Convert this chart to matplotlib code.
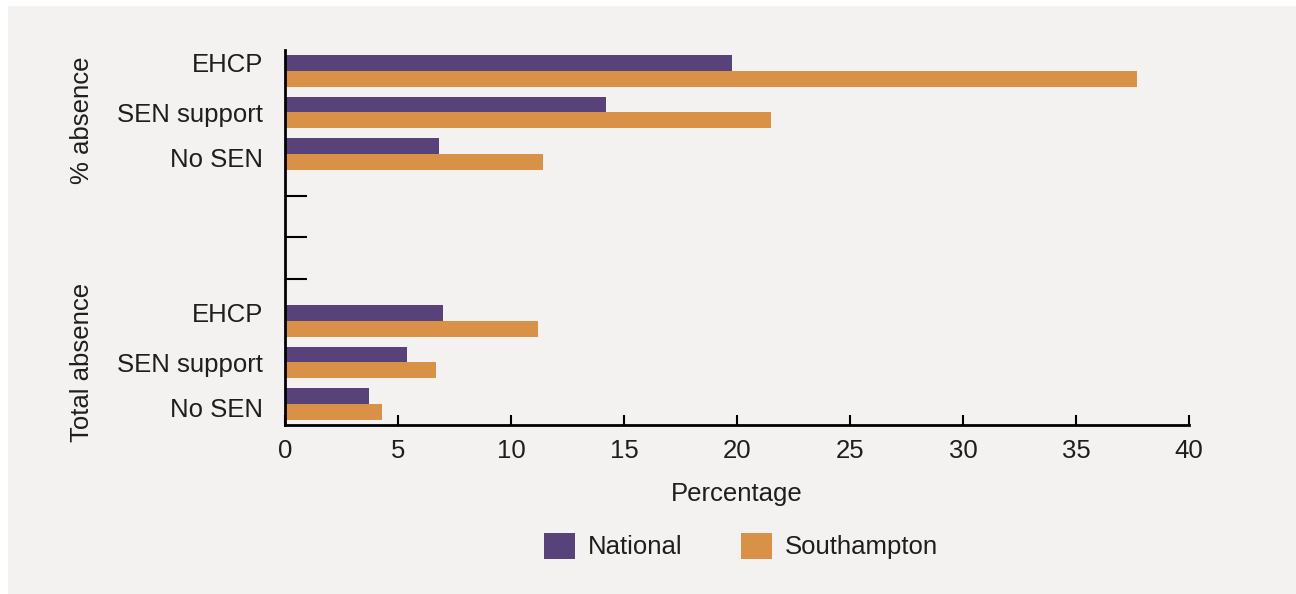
import matplotlib.pyplot as plt
import matplotlib.transforms as mtransforms
from matplotlib.patches import Patch, Rectangle

# data (percent)
categories = ["EHCP", "SEN support", "No SEN", "", "", "", "EHCP", "SEN support", "No SEN"]
national = [19.8, 14.2, 6.8, 0, 0, 0, 7.0, 5.4, 3.7]
southampton = [37.7, 21.5, 11.4, 0, 0, 0, 11.2, 6.7, 4.3]
x_ticks = [0, 5, 10, 15, 20, 25, 30, 35, 40]
groups = ["% absence", "Total absence"]

purple = "#574379"
orange = "#d99047"
bg = "#f4f2f0"
txt = "#1e1e1e"
fs = 18.5

plt.rcParams["font.family"] = ["Liberation Sans", "DejaVu Sans"]

fig = plt.figure(figsize=(12.96, 5.94), dpi=100, facecolor="white")
fig.patches.append(Rectangle((8 / 1296, 0), 1, 1 - 6 / 594, transform=fig.transFigure,
                             facecolor=bg, edgecolor="none", zorder=-10))

ax = fig.add_axes([285 / 1296, (594 - 425) / 594, (1189 - 285) / 1296, (425 - 50) / 594])
ax.set_facecolor("none")

pos = list(range(len(categories)))
h = 0.38
ax.barh([p - h / 2 for p in pos], national, height=h, color=purple, zorder=3)
ax.barh([p + h / 2 for p in pos], southampton, height=h, color=orange, zorder=3)

ax.set_ylim(8.5, -0.5)
ax.set_xlim(0, 40)
ax.set_yticks(pos)
ax.set_yticklabels([])
ax.set_xticks(x_ticks)
ax.set_xticklabels([str(t) for t in x_ticks], fontsize=fs, color=txt)

# category labels, spread a little wider than the bars as in the original
shift_px = {"EHCP": 8, "SEN support": 0, "No SEN": -3}
for p, name in zip(pos, categories):
    if not name:
        continue
    tr = ax.get_yaxis_transform() + mtransforms.ScaledTranslation(
        -22 / 100, shift_px[name] / 100, fig.dpi_scale_trans)
    ax.text(0, p, name, transform=tr, ha="right", va="center_baseline",
            fontsize=fs, color=txt)

ax.tick_params(axis="y", direction="in", length=16, width=1.5, color="black")
ax.tick_params(axis="x", direction="in", length=7, width=1.5, pad=10, color="black")
for s in ["top", "right"]:
    ax.spines[s].set_visible(False)
for s in ["left", "bottom"]:
    ax.spines[s].set_linewidth(2)
    ax.spines[s].set_zorder(4)

ax.set_xlabel("Percentage", fontsize=fs, color=txt, labelpad=14)

fig.text(82 / 1296, 1 - 120 / 594, groups[0], rotation=90, fontsize=fs, color=txt,
         ha="center", va="center")
fig.text(82 / 1296, 1 - 362 / 594, groups[1], rotation=90, fontsize=fs, color=txt,
         ha="center", va="center")

handles = [Patch(facecolor=purple, label="National"),
           Patch(facecolor=orange, label="Southampton")]
leg = fig.legend(handles=handles, loc="center", bbox_to_anchor=(741 / 1296, 1 - 546 / 594),
                 ncol=2, frameon=False, fontsize=fs, handlelength=1.2, handleheight=1.2,
                 handletextpad=0.5, columnspacing=2.3)
for t in leg.get_texts():
    t.set_color(txt)

fig.savefig("out.png", dpi=100, facecolor=fig.get_facecolor())
